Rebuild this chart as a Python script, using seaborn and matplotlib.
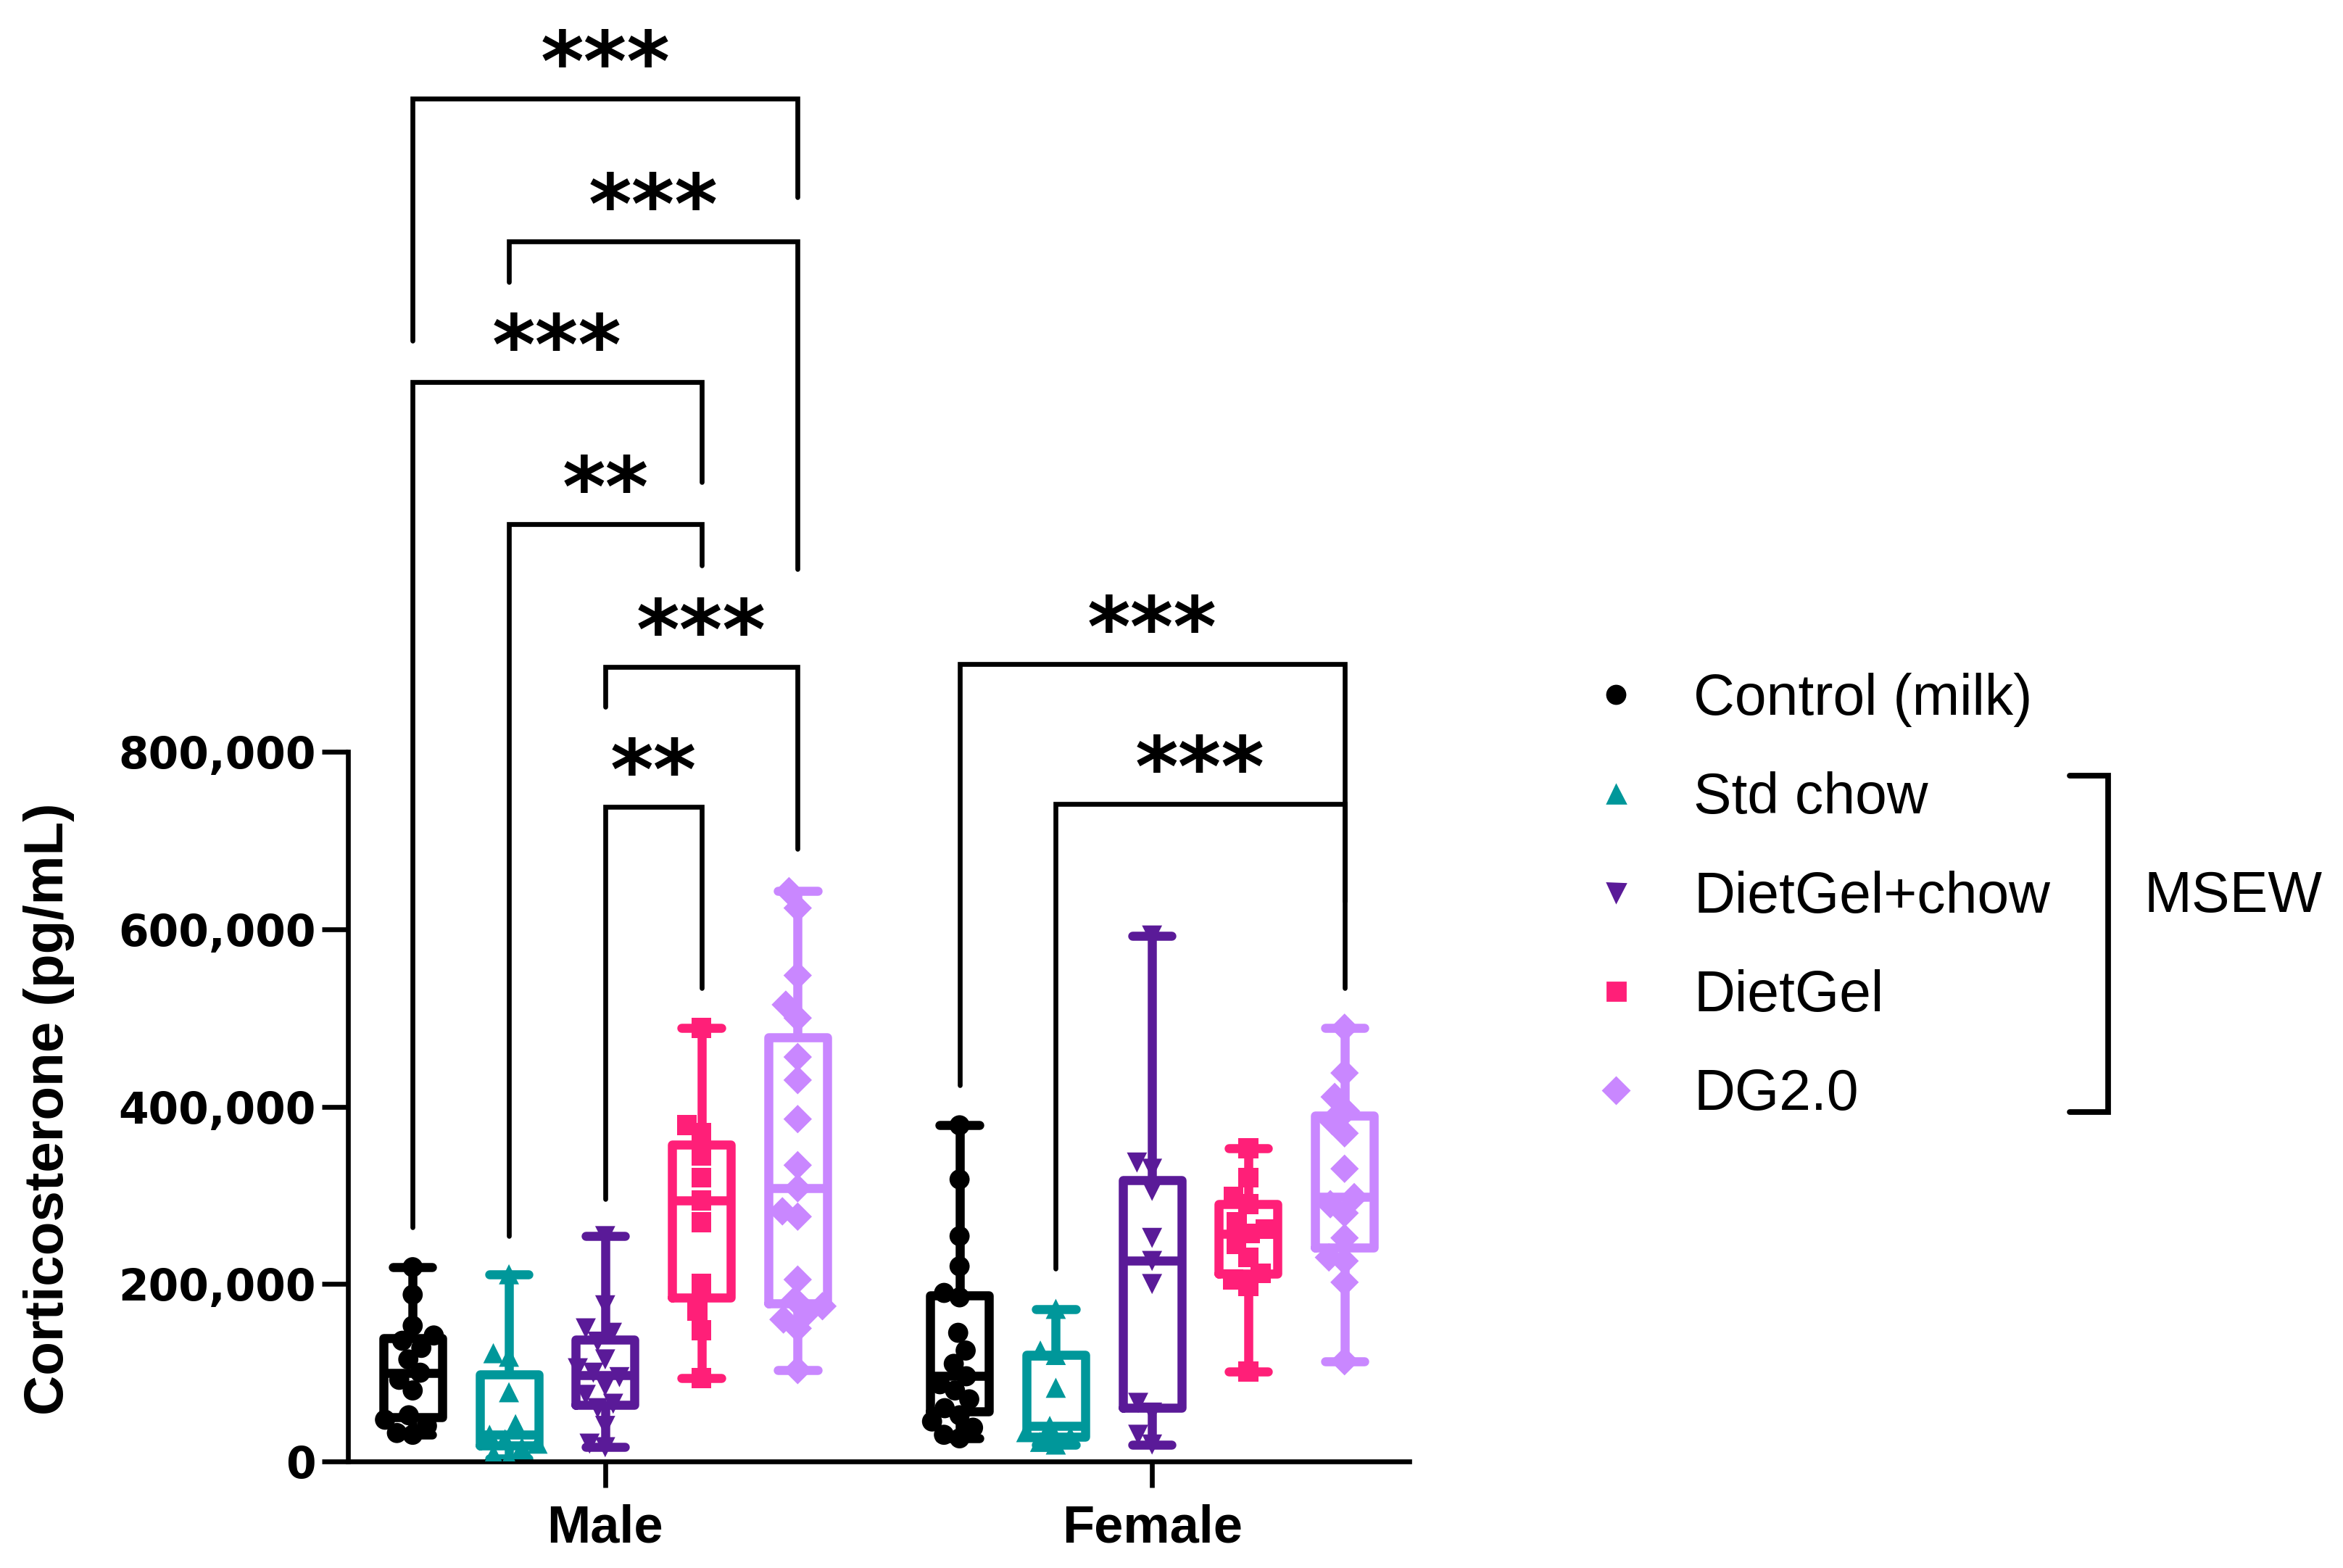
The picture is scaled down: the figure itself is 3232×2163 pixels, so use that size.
import numpy as np
import pandas as pd
import seaborn as sns
import matplotlib.pyplot as plt
from matplotlib.lines import Line2D
import warnings
warnings.filterwarnings("ignore")

sns.set_style("ticks")
plt.rcParams['font.family'] = ['Liberation Sans', 'DejaVu Sans']
for key in ['text.color', 'axes.labelcolor', 'xtick.color', 'ytick.color', 'axes.edgecolor']:
    plt.rcParams[key] = 'black'

# groups
sexes = ['Male', 'Female']
diets = ['Control (milk)', 'Std chow', 'DietGel+chow', 'DietGel', 'DG2.0']
colors = ['#000000', '#00979A', '#5A1A98', '#FF1F78', '#C987FF']
markers = ['o', '^', 'v', 's', 'D']

# corticosterone values (thousands pg/mL)
male_control = [30, 32, 40, 47, 52, 80, 92, 100, 115, 128, 136, 142, 153, 188, 219]
male_std = [3, 8, 16, 20, 25, 30, 42, 78, 118, 122, 211]
male_dgc = [16, 20, 40, 60, 65, 75, 85, 95, 100, 105, 115, 135, 145, 150, 176, 254]
male_dietgel = [94, 148, 170, 200, 270, 294, 320, 345, 370, 379, 489]
male_dg2 = [103, 150, 160, 168, 175, 182, 205, 276, 282, 308, 334, 386, 430, 456, 500, 515, 548, 624, 643]
female_control = [26, 30, 38, 45, 52, 60, 70, 80, 87, 96, 110, 125, 145, 185, 190, 220, 254, 318, 379]
female_std = [19, 22, 28, 33, 40, 83, 120, 125, 172]
female_dgc = [19, 30, 55, 66, 200, 226, 252, 305, 330, 337, 593]
female_dietgel = [101, 198, 205, 212, 230, 245, 257, 262, 270, 290, 298, 320, 353]
female_dg2 = [113, 202, 226, 230, 252, 280, 290, 298, 330, 370, 384, 395, 411, 438, 489]

values = {
    'Male': [male_control, male_std, male_dgc, male_dietgel, male_dg2],
    'Female': [female_control, female_std, female_dgc, female_dietgel, female_dg2],
}

# significance brackets: sex, left group, right group, bar height, left leg end, right leg end, label
brackets = [
    ('Male', 0, 4, 1537, 1264, 1426, '***'),
    ('Male', 1, 4, 1376, 1330, 1006, '***'),
    ('Male', 0, 3, 1217, 264, 1104, '***'),
    ('Male', 1, 3, 1057, 254, 1010, '**'),
    ('Male', 2, 4, 896, 851, 691, '***'),
    ('Male', 2, 3, 738, 296, 534, '**'),
    ('Female', 0, 4, 899, 424, 632, '***'),
    ('Female', 1, 4, 741, 217, 534, '***'),
]

rows = []
for sex in sexes:
    for diet, vals in zip(diets, values[sex]):
        for v in vals:
            rows.append((sex, diet, v * 1000))
df = pd.DataFrame(rows, columns=['sex', 'diet', 'cort'])

fig = plt.figure(figsize=(16.16, 10.815), dpi=200)
ax = fig.add_axes([0.1486, 0.068, 0.4528, 0.932])

group_width = 0.88
sns.boxplot(data=df, x='sex', y='cort', hue='diet', order=sexes, hue_order=diets,
            palette=colors, fill=False, whis=(0, 100), width=group_width, gap=0.39,
            linewidth=4.5, showfliers=False, legend=False, capwidths=0.072, ax=ax)

swarm_colls = []
for diet, m in zip(diets, markers):
    n_before = len(ax.collections)
    sns.swarmplot(data=df[df['diet'] == diet], x='sex', y='cort', hue='diet',
                  order=sexes, hue_order=diets, palette=colors, marker=m, size=10,
                  dodge=True, legend=False, ax=ax)
    swarm_colls += ax.collections[n_before:]

# brackets
slot = group_width / len(diets)
for sex, i, j, h, l_end, r_end, label in brackets:
    c = sexes.index(sex)
    x1 = c + (i - 2) * slot
    x2 = c + (j - 2) * slot
    ax.plot([x1, x1, x2, x2], [l_end * 1000, h * 1000, h * 1000, r_end * 1000],
            color='black', lw=2.4, solid_capstyle='round', solid_joinstyle='miter')
    ax.text((x1 + x2) / 2, h * 1000 + 9000, label, ha='center', va='baseline',
            fontsize=41, fontweight='heavy', family='DejaVu Sans')

ax.set_xlim(-0.47, 1.47)
ax.set_ylim(0, 1648000)
ax.set_yticks([0, 200000, 400000, 600000, 800000])
ax.set_yticklabels(['{:,}'.format(t) for t in [0, 200000, 400000, 600000, 800000]],
                   fontsize=21.5, fontweight='bold', family='DejaVu Sans')
ax.set_xticks([0, 1])
ax.set_xticklabels(sexes, fontsize=26, fontweight='bold')
ax.set_xlabel('')
ax.set_ylabel('Corticosterone (pg/mL)', fontsize=27.5, fontweight='bold')
ax.yaxis.set_label_coords(-0.258, 0.241)

sns.despine(ax=ax)
ax.spines['left'].set_bounds(0, 800000)
ax.spines['left'].set_linewidth(2.4)
ax.spines['bottom'].set_linewidth(2.4)
ax.tick_params(axis='both', length=13, width=2.4, direction='out', color='black')
ax.tick_params(axis='y', pad=3)
ax.tick_params(axis='x', pad=8)

# swarm positions are computed at draw time: draw once, then move the points
# from seaborn's 0.8-wide dodge to the box slots and tighten the spread
fig.canvas.draw()
swarm_slot = 0.8 / len(diets)
for coll in swarm_colls:
    if 'draw' in coll.__dict__:
        del coll.draw
    off = np.asarray(coll.get_offsets()).copy()
    if len(off) == 0:
        continue
    centre = np.round(off[:, 0])
    dx = off[:, 0] - centre
    slot_pos = np.round(dx.mean() / swarm_slot) * swarm_slot
    off[:, 0] = centre + slot_pos * group_width / 0.8 + (dx - slot_pos) * 0.75
    coll.set_offsets(off)

# legend
handles = [Line2D([0], [0], marker=m, color=c, linestyle='none', markersize=9)
           for m, c in zip(markers, colors)]
fig.legend(handles, diets, loc='upper left', bbox_to_anchor=(0.6776, 0.571),
           frameon=False, fontsize=28.3, handlelength=1.0, handletextpad=0.86,
           labelspacing=0.78, borderpad=0, borderaxespad=0)

# MSEW bracket
W, H = 1568, 1049
bx = [1385 / W, 1411 / W, 1411 / W, 1385 / W]
by = [1 - 519 / H, 1 - 519 / H, 1 - 744 / H, 1 - 744 / H]
fig.add_artist(Line2D(bx, by, color='black', lw=2.8, transform=fig.transFigure,
                      solid_joinstyle='miter'))
fig.text(1435 / W, 1 - 600 / H, 'MSEW', fontsize=28.5, va='center', ha='left')

fig.savefig('out.png', dpi=200, facecolor='white')
